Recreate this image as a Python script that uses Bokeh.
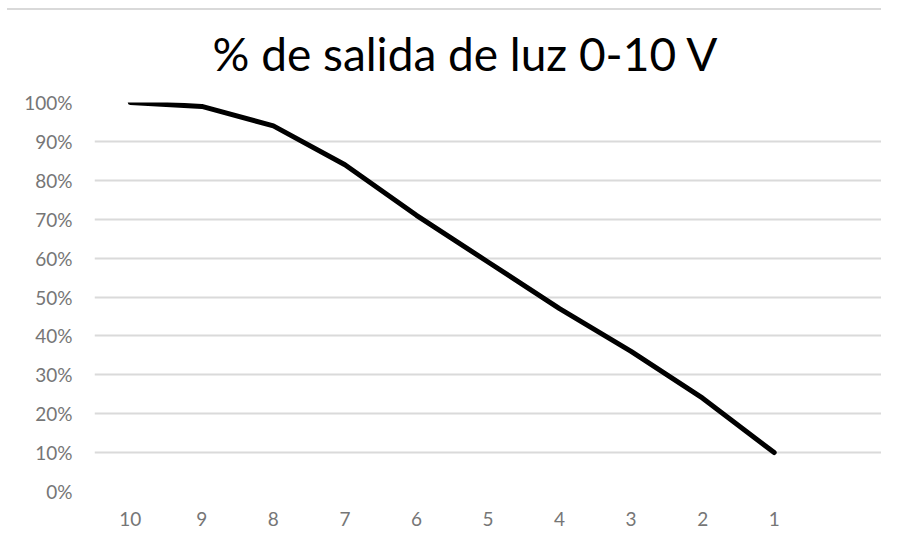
from bokeh.plotting import figure
from bokeh.models import FixedTicker, NumeralTickFormatter
from bokeh.embed import file_html
from bokeh.resources import INLINE

voltage_labels = ["10", "9", "8", "7", "6", "5", "4", "3", "2", "1"]
light_output = [1.00, 0.99, 0.94, 0.84, 0.71, 0.59, 0.47, 0.36, 0.24, 0.10]
y_ticks = [0.0, 0.1, 0.2, 0.3, 0.4, 0.5, 0.6, 0.7, 0.8, 0.9, 1.0]

x_pos = list(range(len(voltage_labels)))

p = figure(width=881, height=528, output_backend="svg", toolbar_location=None,
           x_range=(-0.5, len(voltage_labels) + 0.5), y_range=(0, 1.0),
           min_border_left=94, min_border_right=0, min_border_top=102, min_border_bottom=30)

p.styles = {
    "background-color": "#ffffff",
    "background-image": "linear-gradient(#d9d9d9, #d9d9d9)",
    "background-position": "7px 8px",
    "background-size": "2000px 2px",
    "background-repeat": "no-repeat",
}

p.title.text = "% de salida de luz 0-10 V"
p.title.text_font = "Lato"
p.title.text_font_size = "46px"
p.title.text_font_style = "normal"
p.title.text_color = "#000000"
p.title.align = "left"
p.title.offset = 118
p.title.standoff = 44

p.line(x_pos, light_output, line_color="black", line_width=5, line_cap="round", line_join="round")

p.xaxis.ticker = FixedTicker(ticks=x_pos)
p.xaxis.major_label_overrides = {i: lab for i, lab in enumerate(voltage_labels)}
p.yaxis.ticker = FixedTicker(ticks=y_ticks)
p.yaxis.formatter = NumeralTickFormatter(format="0%")

for ax in (p.xaxis, p.yaxis):
    ax.axis_line_color = None
    ax.major_tick_line_color = None
    ax.minor_tick_line_color = None
    ax.major_label_text_font = "Lato"
    ax.major_label_text_font_size = "19px"
    ax.major_label_text_color = "#767676"

p.xaxis.major_label_standoff = 14
p.yaxis.major_label_standoff = 16

p.xgrid.grid_line_color = None
p.ygrid.ticker = FixedTicker(ticks=y_ticks)
p.ygrid.grid_line_color = "#dadada"
p.ygrid.grid_line_width = 2
p.outline_line_color = None
p.background_fill_color = None
p.border_fill_color = None

open("out.html", "w").write(file_html(p, INLINE))
